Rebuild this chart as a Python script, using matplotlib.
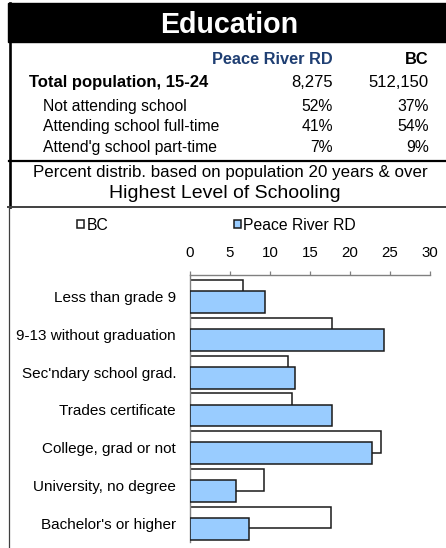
#!/usr/bin/env python3
"""Education profile panel: summary table plus highest-schooling bar chart."""

import numpy as np
import matplotlib
matplotlib.use('Agg')
import matplotlib.pyplot as plt
from matplotlib.lines import Line2D
from matplotlib.patches import Rectangle

plt.rcParams['font.family'] = ['Liberation Sans', 'DejaVu Sans']

# ============================================================================
# DATA
# ============================================================================

region_name = 'Peace River RD'
province_name = 'BC'

table_rows = ['Not attending school', 'Attending school full-time',
              "Attend'g school part-time"]
total_label = 'Total population, 15-24'
total_region = '8,275'
total_province = '512,150'
region_pct = ['52%', '41%', '7%']
province_pct = ['37%', '54%', '9%']

categories = ['Less than grade 9', '9-13 without graduation',
              "Sec'ndary school grad.", 'Trades certificate',
              'College, grad or not', 'University, no degree',
              "Bachelor's or higher"]
bc_values = [6.6, 17.7, 12.3, 12.8, 23.9, 9.2, 17.6]
region_values = [9.4, 24.3, 13.1, 17.7, 22.7, 5.7, 7.4]
x_ticks = [0, 5, 10, 15, 20, 25, 30]

# ============================================================================
# FIGURE
# ============================================================================

W, H = 446, 548
fig = plt.figure(figsize=(W / 100, H / 100), dpi=100)


def fx(px):
    return px / W


def fy(py):
    return 1 - py / H


# black title band and box lines (pixel layout)
fig.patches.append(Rectangle((fx(8.3), fy(42.3)), 1 - fx(8.3), (42.3 - 3.3) / H,
                             transform=fig.transFigure, color='black', zorder=0))
fig.lines.append(Line2D([fx(9.6), fx(9.6)], [fy(3.3), fy(207)], transform=fig.transFigure,
                        color='black', lw=1.9))
fig.lines.append(Line2D([fx(9), 1], [fy(161), fy(161)], transform=fig.transFigure,
                        color='black', lw=1.6))
fig.lines.append(Line2D([fx(8), 1], [fy(207.5), fy(207.5)], transform=fig.transFigure,
                        color='#404040', lw=1.4))
fig.lines.append(Line2D([fx(8.5), fx(8.5)], [fy(207.5), 0], transform=fig.transFigure,
                        color='#404040', lw=0.9))

fig.text(fx(229), fy(33), 'Education', color='white', fontsize=20.6, fontweight='bold',
         ha='center', va='baseline')

col1, col2 = fx(333), fx(429)
fig.text(col1, fy(64), region_name, color='#1F3F73', fontsize=11.8, fontweight='bold',
         ha='right', va='baseline')
fig.text(col2, fy(64), province_name, fontsize=11.8, fontweight='bold',
         ha='right', va='baseline')

fig.text(fx(29), fy(87), total_label, fontsize=12, fontweight='bold', va='baseline')
fig.text(col1, fy(87), total_region, fontsize=12, ha='right', va='baseline')
fig.text(col2, fy(87), total_province, fontsize=12, ha='right', va='baseline')

for i, row in enumerate(table_rows):
    yb = fy([111, 131, 152][i])
    fig.text(fx(43), yb, row, fontsize=11.3, va='baseline')
    fig.text(col1, yb, region_pct[i], fontsize=11.3, ha='right', va='baseline')
    fig.text(col2, yb, province_pct[i], fontsize=11.3, ha='right', va='baseline')

fig.text(fx(230), fy(177), 'Percent distrib. based on population 20 years & over',
         fontsize=12.2, ha='center', va='baseline')
fig.text(fx(224.5), fy(198), 'Highest Level of Schooling', fontsize=14,
         ha='center', va='baseline')

# ============================================================================
# BAR CHART
# ============================================================================

ax = fig.add_axes([fx(190), fy(542), fx(430) - fx(190), (542 - 275) / H])

pos = np.arange(len(categories))
bar_h = 0.575
off = 0.15
bc_bars = ax.barh(pos - off, bc_values, height=bar_h, color='white',
                  edgecolor='#1a1a1a', lw=1.1, label=province_name, zorder=2)
pr_bars = ax.barh(pos + off, region_values, height=bar_h, color='#99CCFF',
                  edgecolor='#1a1a1a', lw=1.1, label=region_name, zorder=3)

ax.set_xlim(0, 30)
ax.set_ylim(6.5, -0.57)
ax.xaxis.tick_top()
ax.set_xticks(x_ticks)
ax.set_xticklabels([str(t) for t in x_ticks])
ax.tick_params(axis='x', direction='out', length=3, width=0.9, color='#808080',
               pad=8, labelsize=10.8)
ax.set_yticks(pos)
ax.set_yticklabels(categories)
ax.tick_params(axis='y', length=0, pad=10, labelsize=11)

for side in ['right', 'bottom']:
    ax.spines[side].set_visible(False)
for side in ['top', 'left']:
    ax.spines[side].set_color('#808080')
    ax.spines[side].set_linewidth(1.0)

fig.legend(handles=[bc_bars, pr_bars], labels=[province_name, region_name],
           loc='center left', bbox_to_anchor=(fx(77), fy(225)), ncol=2,
           frameon=False, fontsize=11.3, handlelength=0.47, handleheight=0.47,
           handletextpad=0.12, columnspacing=8.0, borderpad=0, borderaxespad=0)

plt.savefig('out.png', dpi=100)
